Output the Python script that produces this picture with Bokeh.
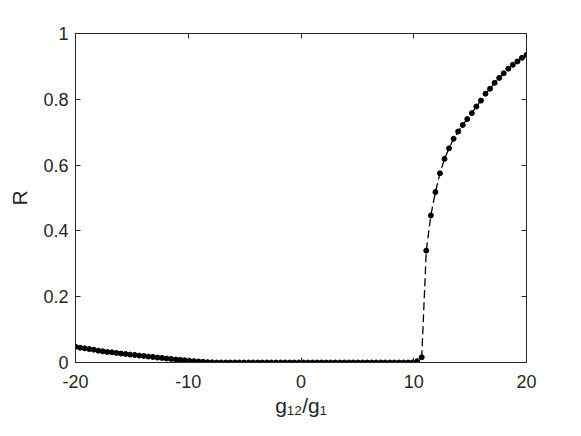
import numpy as np
from bokeh.plotting import figure
from bokeh.models import Range1d, LinearAxis, FixedTicker
from bokeh.embed import file_html
from bokeh.resources import INLINE

# sample grid (100 samples from -20 to 20)
g_ratio = np.linspace(-20, 20, 100)

R_left = [0.048, 0.045, 0.043, 0.041, 0.039, 0.036, 0.034, 0.032, 0.031, 0.029,
          0.027, 0.026, 0.024, 0.023, 0.021, 0.020, 0.018, 0.017, 0.015, 0.014,
          0.012, 0.011, 0.009, 0.008, 0.007, 0.005, 0.004, 0.003, 0.002, 0.001,
          0.0005]
R_flat = [0.0] * 43
R_right = [0.0, 0.004, 0.016, 0.340, 0.447, 0.518, 0.575, 0.619, 0.651, 0.680,
           0.702, 0.722, 0.740, 0.758, 0.778, 0.796, 0.817, 0.832, 0.850, 0.865,
           0.879, 0.893, 0.905, 0.915, 0.926, 0.935, 0.943]
R = R_left + R_flat + R_right

x_ticks = [-20, -10, 0, 10, 20]
y_ticks = [0, 0.2, 0.4, 0.6, 0.8, 1]
x_tick_labels = {-20: "-20", -10: "-10", 0: "0", 10: "10", 20: "20"}
y_tick_labels = {0: "0", 0.2: "0.2", 0.4: "0.4", 0.6: "0.6", 0.8: "0.8", 1: "1"}
x_label = "g\u2081\u2082/g\u2081"
y_label = "R"

FONT = "Liberation Sans"
AX = "#262626"

p = figure(width=581, height=436, output_backend="svg", toolbar_location=None,
           x_range=Range1d(-20, 20), y_range=Range1d(0, 1),
           min_border_left=75, min_border_right=55, min_border_top=33, min_border_bottom=74)
p.outline_line_color = None
p.grid.visible = False
p.background_fill_color = "white"

p.line(g_ratio, R, line_color="black", line_width=1.3, line_dash="8 4")
p.scatter(g_ratio, R, size=5, fill_color="black", line_color="black")

def style(ax, labels=True):
    ax.axis_line_color = AX
    ax.axis_line_width = 1
    ax.major_tick_line_color = AX
    ax.major_tick_in = 5
    ax.major_tick_out = 0
    ax.minor_tick_line_color = None
    ax.major_label_text_font = FONT
    ax.major_label_text_color = AX
    if labels:
        ax.major_label_text_font_size = "18px"
    else:
        ax.major_label_text_color = None
        ax.major_label_standoff = 0

style(p.xaxis[0])
style(p.yaxis[0])
p.xaxis[0].ticker = FixedTicker(ticks=x_ticks)
p.yaxis[0].ticker = FixedTicker(ticks=y_ticks)
p.xaxis[0].major_label_overrides = x_tick_labels
p.yaxis[0].major_label_overrides = y_tick_labels
p.xaxis[0].major_label_standoff = 12
p.yaxis[0].major_label_standoff = 7

for ax, txt, st in ((p.xaxis[0], x_label, 3), (p.yaxis[0], y_label, 9)):
    ax.axis_label = txt
    ax.axis_label_text_font = FONT
    ax.axis_label_text_font_style = "normal"
    ax.axis_label_text_font_size = "21px"
    ax.axis_label_text_color = AX
    ax.axis_label_standoff = st

top = LinearAxis(ticker=FixedTicker(ticks=x_ticks), major_label_overrides={t: "" for t in x_ticks})
right = LinearAxis(ticker=FixedTicker(ticks=y_ticks), major_label_overrides={t: "" for t in y_ticks})
style(top, False)
style(right, False)
p.add_layout(top, "above")
p.add_layout(right, "right")

open("out.html", "w").write(file_html(p, INLINE))
